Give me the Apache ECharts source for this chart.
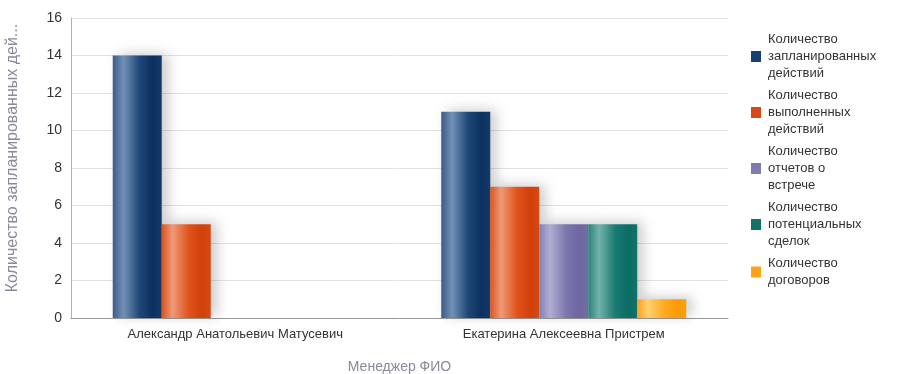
<!DOCTYPE html>
<html>
<head>
<meta charset="utf-8">
<script src="https://cdn.jsdelivr.net/npm/echarts@6/dist/echarts.min.js"></script>
<style>
  html, body { margin: 0; padding: 0; background: #fff; }
  #chart { width: 906px; height: 374px; }
</style>
</head>
<body>
<div id="chart"></div>
<script>
// данные графика
const managers = ['Александр Анатольевич Матусевич', 'Екатерина Алексеевна Пристрем'];
const seriesNames = [
  'Количество\nзапланированных\nдействий',
  'Количество\nвыполненных\nдействий',
  'Количество\nотчетов о\nвстрече',
  'Количество\nпотенциальных\nсделок',
  'Количество\nдоговоров'
];
const planned = [14, 11];
const done = [5, 7];
const reports = [null, 5];
const deals = [null, 5];
const contracts = [null, 1];
const yTicks = [0, 2, 4, 6, 8, 10, 12, 14, 16];

// градиенты «цилиндр» для столбцов
const palettes = [
  ['#3b5b87', '#7391b7', '#1e4676', '#0b3161', '#143a6a'],
  ['#d9531f', '#ee9a78', '#e0531c', '#d2400a', '#d84a12'],
  ['#8380b2', '#b0aed2', '#7b76ad', '#6d67a2', '#746fa7'],
  ['#2c837b', '#72b3ab', '#1a7b72', '#0b6c63', '#12736a'],
  ['#f7a020', '#ffd070', '#ffaa20', '#fb9a05', '#f8a010']
];
const grad = (c) => new echarts.graphic.LinearGradient(0, 0, 1, 0, [
  { offset: 0, color: c[0] },
  { offset: 0.22, color: c[1] },
  { offset: 0.55, color: c[2] },
  { offset: 0.82, color: c[3] },
  { offset: 1, color: c[4] }
]);
const legendColors = ['#163f72', '#d8461a', '#7f7bb0', '#137268', '#ffa21a'];

const values = [planned, done, reports, deals, contracts];

const chart = echarts.init(document.getElementById('chart'));

const series = values.map((v, i) => ({
  name: seriesNames[i],
  type: 'bar',
  data: v,
  barWidth: 49,
  barGap: '0%',
  itemStyle: {
    color: grad(palettes[i]),
    shadowColor: 'rgba(0,0,0,0.2)',
    shadowBlur: 12,
    shadowOffsetX: 6,
    shadowOffsetY: -2
  },
  emphasis: { disabled: true }
}));

chart.setOption({
  animation: false,
  textStyle: { fontFamily: 'Liberation Sans, Arial, sans-serif' },
  grid: { left: 71, right: 178, top: 18, bottom: 56, outerBoundsMode: 'none', containLabel: false },
  legend: {
    orient: 'vertical',
    left: 751,
    top: 31,
    padding: 0,
    itemWidth: 10,
    itemHeight: 11,
    itemGap: 5,
    icon: 'rect',
    data: seriesNames.map((n, i) => ({ name: n, itemStyle: { color: legendColors[i] } })),
    textStyle: { fontSize: 13, color: '#333', lineHeight: 17, padding: [0, 0, 0, 2] }
  },
  xAxis: {
    type: 'category',
    data: managers,
    name: 'Менеджер ФИО',
    nameLocation: 'middle',
    nameGap: 42,
    nameTextStyle: { fontSize: 14, color: '#8a8a99' },
    axisLine: { lineStyle: { color: '#9a9a9a' } },
    axisTick: { show: false },
    axisLabel: { fontSize: 13, color: '#333', margin: 10 }
  },
  yAxis: {
    type: 'value',
    min: yTicks[0],
    max: yTicks[yTicks.length - 1],
    interval: 2,
    name: 'Количество запланированных дей...',
    nameLocation: 'middle',
    nameRotate: 90,
    nameGap: 50,
    nameTextStyle: { fontSize: 16, color: '#8a8a99', padding: [0, 0, 0, 20] },
    axisLine: { show: true, lineStyle: { color: '#b0b0b0' } },
    axisTick: { show: false },
    axisLabel: { fontSize: 14, color: '#333', margin: 9 },
    splitLine: { lineStyle: { color: '#e3e3e3' } }
  },
  series: series
});
</script>
</body>
</html>
